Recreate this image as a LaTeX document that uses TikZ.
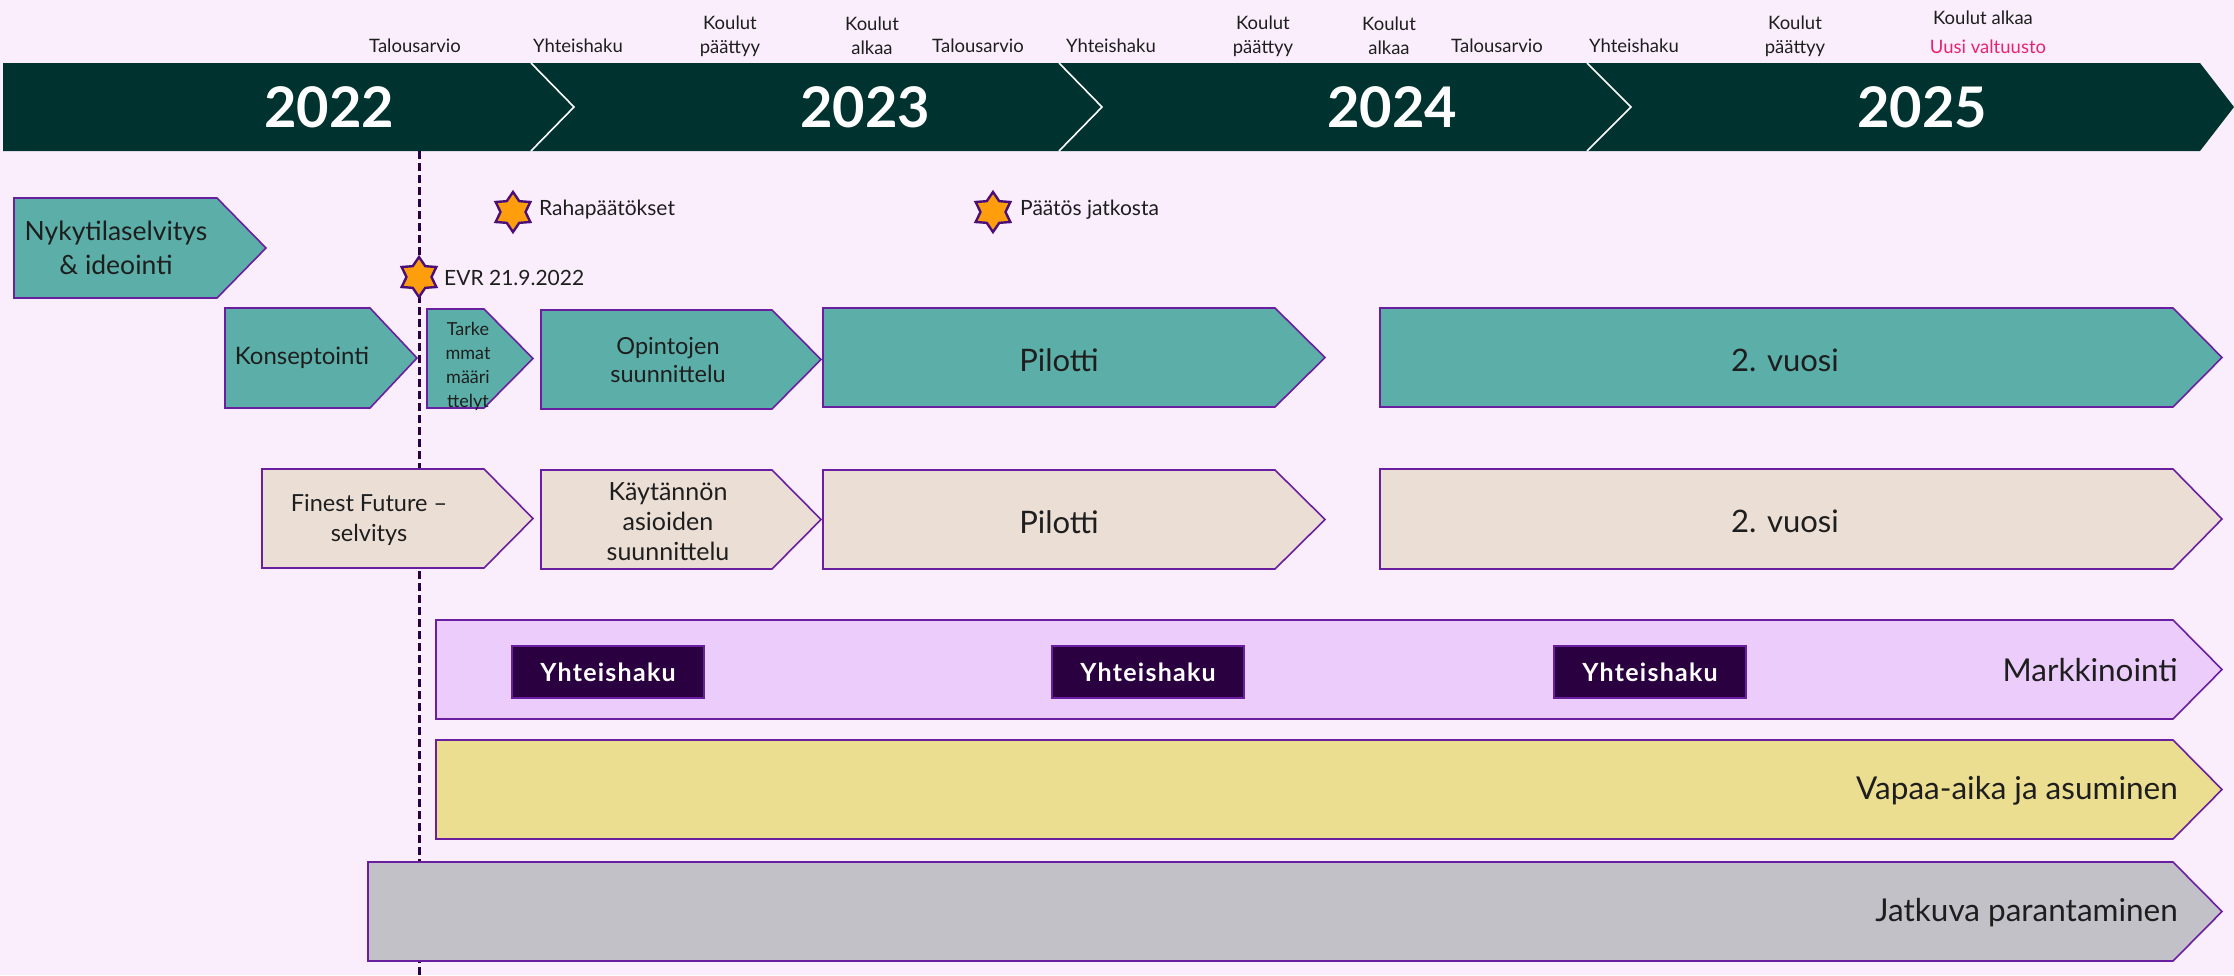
\documentclass[tikz,border=0pt]{standalone}
\usepackage{fontspec}
\setmainfont{Lato}
\usetikzlibrary{shapes.geometric}
\definecolor{bg}{HTML}{FAEEFD}
\definecolor{band}{HTML}{00332F}
\definecolor{tealc}{HTML}{5BAFA8}
\definecolor{beige}{HTML}{EBDED5}
\definecolor{lav}{HTML}{EBCCFB}
\definecolor{yel}{HTML}{ECDE91}
\definecolor{grey}{HTML}{C2C1C7}
\definecolor{edge}{HTML}{6A1FA0}
\definecolor{dpurple}{HTML}{2A0040}
\definecolor{starfill}{HTML}{FF9E0D}
\definecolor{starline}{HTML}{4A0F78}
\definecolor{pinktxt}{HTML}{E8246B}
\definecolor{txt}{HTML}{1E1E1E}
\newcommand\fs[2]{\fontsize{#1}{#2}\selectfont}
% #1 style, #2 x0, #3 y0, #4 x shoulder, #5 x tip, #6 y1
\newcommand\arrowbox[6]{\draw[#1] (#2,#3) -- (#4,#3) -- (#5,{(#3+#6)/2}) -- (#4,#6) -- (#2,#6) -- cycle;}
\begin{document}
\begin{tikzpicture}[x=1pt,y=-1pt,
  shp/.style={draw=edge, line width=1.6pt, line join=miter},
  tealbox/.style={shp, fill=tealc},
  beigebox/.style={shp, fill=beige},
  lavbox/.style={shp, fill=lav},
  yelbox/.style={shp, fill=yel},
  greybox/.style={shp, fill=grey},
  toplab/.style={text=txt, font=\fs{18.5}{22}, align=center, inner sep=0pt},
  yearlab/.style={text=white, font=\bfseries\fs{56}{60}, inner sep=0pt},
  boxtxt/.style={text=txt, align=center, inner sep=0pt},
  yh/.style={fill=dpurple, draw=edge, line width=1.5pt, text=white, font=\bfseries\fs{25}{28}\addfontfeatures{LetterSpace=5}, minimum width=192pt, minimum height=52pt, inner sep=0pt},
  starmark/.style={star, star points=6, star point ratio=1.6, minimum size=40pt, inner sep=0pt, fill=starfill, draw=starline, line width=2.4pt},
  starlab/.style={text=txt, font=\fs{21}{24}, anchor=west, inner sep=0pt},
  dashline/.style={draw=dpurple, line width=3pt, dash pattern=on 8pt off 4pt}
]
\useasboundingbox (0,0) rectangle (2234,975);
\fill[bg] (0,0) rectangle (2234,975);

% year band
\fill[band] (3,63) -- (2200,63) -- (2234,107) -- (2200,151) -- (3,151) -- cycle;
\draw[white, line width=1.6pt] (531,63) -- (574,107) -- (531,151);
\draw[white, line width=1.6pt] (1059,63) -- (1102,107) -- (1059,151);
\draw[white, line width=1.6pt] (1587,63) -- (1631,107) -- (1587,151);
\node[yearlab] (y2022) at (329,107) {2022};
\node[yearlab] (y2023) at (865,107) {2023};
\node[yearlab] (y2024) at (1392,107) {2024};
\node[yearlab] (y2025) at (1922,107) {2025};

% top labels
\node[toplab] (t1) at (415,46) {Talousarvio};
\node[toplab] (t2) at (578,46) {Yhteishaku};
\node[toplab] (t3) at (730,36) {Koulut\\[2pt]päättyy};
\node[toplab] (t4) at (872,36) {Koulut\\[2pt]alkaa};
\node[toplab] (t5) at (978,46) {Talousarvio};
\node[toplab] (t6) at (1111,46) {Yhteishaku};
\node[toplab] (t7) at (1263,36) {Koulut\\[2pt]päättyy};
\node[toplab] (t8) at (1389,36) {Koulut\\[2pt]alkaa};
\node[toplab] (t9) at (1497,46) {Talousarvio};
\node[toplab] (t10) at (1634,46) {Yhteishaku};
\node[toplab] (t11) at (1795,36) {Koulut\\[2pt]päättyy};
\node[toplab] (t12) at (1983,18) {Koulut alkaa};
\node[toplab, text=pinktxt] (t13) at (1988,47) {Uusi valtuusto};

% dashed line
\coordinate (dtop) at (419,151);
\coordinate (dbot) at (419,975);
\draw[dashline] (dtop) -- (dbot);

% row 1 teal
\arrowbox{tealbox}{14}{198}{217}{266}{298}
\node[boxtxt, font=\fs{26.5}{34}] (nyky) at (116,248) {Nykytilaselvitys\\\& ideointi};
\arrowbox{tealbox}{225}{308}{370}{417}{408}
\node[boxtxt, font=\fs{24}{28}] (kons) at (302,358) {Konseptointi};
\arrowbox{tealbox}{427}{309}{484}{533}{408}
\node[boxtxt, font=\fs{18}{24}] (tark) at (468,366) {Tarke\\mmat\\määri\\ttelyt};
\arrowbox{tealbox}{541}{310}{772}{821}{409}
\node[boxtxt, font=\fs{23.5}{28}] (opin) at (668,360) {Opintojen\\suunnittelu};
\arrowbox{tealbox}{823}{308}{1275}{1325}{407}
\node[boxtxt, font=\fs{31}{34}] (pil1) at (1059,360) {Pilotti};
\arrowbox{tealbox}{1380}{308}{2173}{2222}{407}
\node[boxtxt, font=\fs{31}{34}] (vuo1) at (1785,360) {2. vuosi};

% row 2 beige
\arrowbox{beigebox}{262}{469}{484}{533}{568}
\node[boxtxt, font=\fs{23.5}{30}] (fine) at (369,520) {Finest Future –\\selvitys};
\arrowbox{beigebox}{541}{470}{772}{821}{569}
\node[boxtxt, font=\fs{25}{30}] (kayt) at (668,522) {Käytännön\\asioiden\\suunnittelu};
\arrowbox{beigebox}{823}{470}{1275}{1325}{569}
\node[boxtxt, font=\fs{31}{34}] (pil2) at (1059,522) {Pilotti};
\arrowbox{beigebox}{1380}{469}{2173}{2222}{569}
\node[boxtxt, font=\fs{31}{34}] (vuo2) at (1785,521) {2. vuosi};

% long bars
\arrowbox{lavbox}{436}{620}{2173}{2222}{719}
\node[boxtxt, font=\fs{31.5}{34}, anchor=east] (mark) at (2178,670) {Markkinointi};
\node[yh] (yh1) at (608,672) {Yhteishaku};
\node[yh] (yh2) at (1148,672) {Yhteishaku};
\node[yh] (yh3) at (1650,672) {Yhteishaku};

\arrowbox{yelbox}{436}{740}{2173}{2222}{839}
\node[boxtxt, font=\fs{31.5}{34}, anchor=east] (vapa) at (2178,791) {Vapaa-aika ja asuminen};

\arrowbox{greybox}{368}{862}{2173}{2222}{961}
\node[boxtxt, font=\fs{31.5}{34}, anchor=east] (jatk) at (2178,913) {Jatkuva parantaminen};

% stars
\node[starmark] (s1) at (419,277) {};
\node[starlab] (s1l) at (444,278) {EVR 21.9.2022};
\node[starmark] (s2) at (513,212) {};
\node[starlab] (s2l) at (539,210) {Rahapäätökset};
\node[starmark] (s3) at (993,212) {};
\node[starlab] (s3l) at (1020,210) {Päätös jatkosta};
\end{tikzpicture}
\end{document}
